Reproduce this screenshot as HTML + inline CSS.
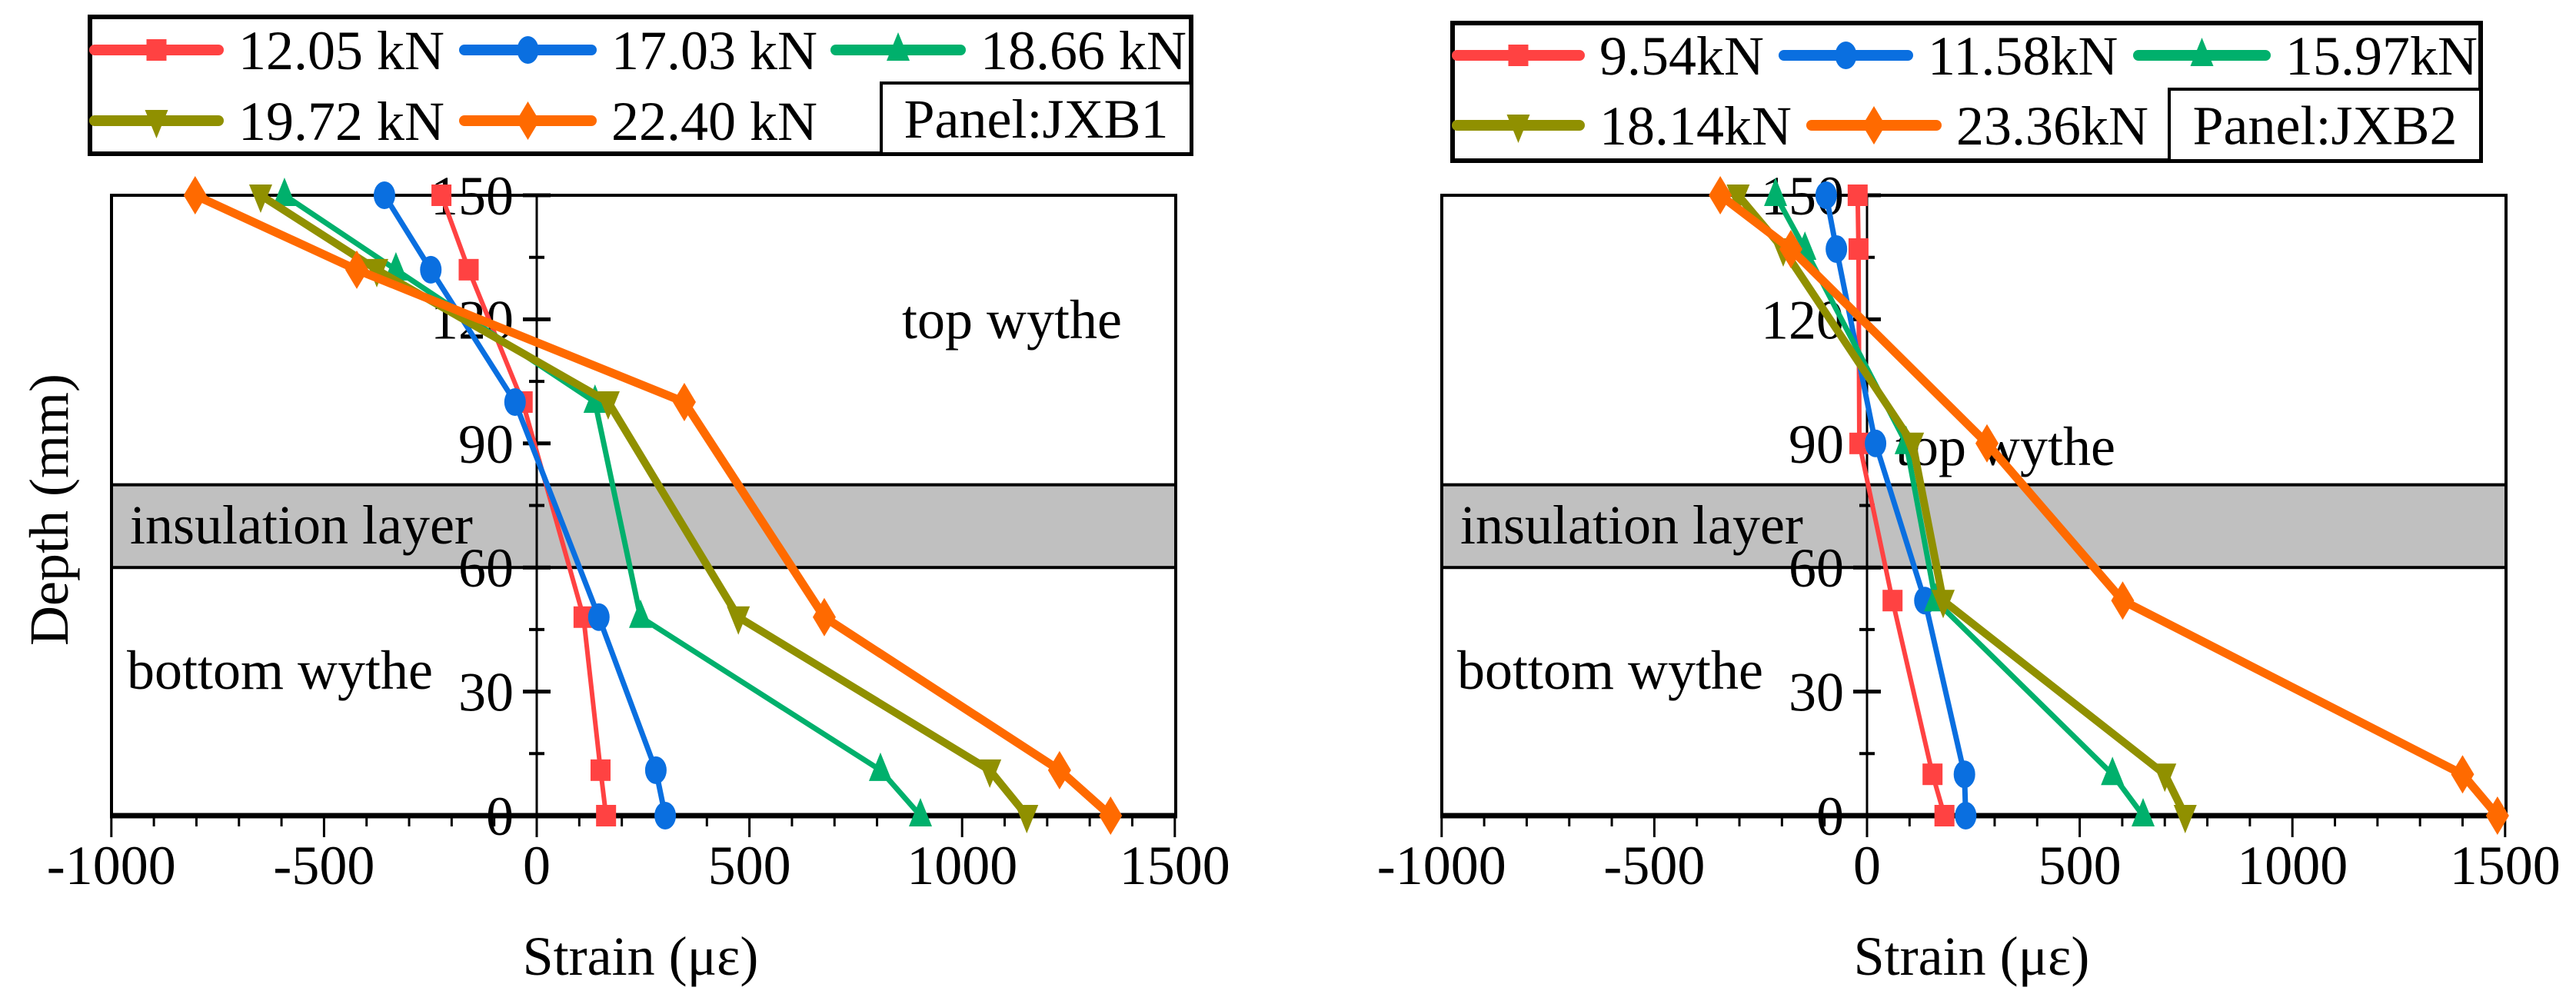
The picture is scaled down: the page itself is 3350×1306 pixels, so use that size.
<!DOCTYPE html>
<html><head><meta charset="utf-8"><style>
html,body{margin:0;padding:0;background:#fff}
svg{display:block}
svg text{font-family:"Liberation Serif","Times New Roman","DejaVu Serif",serif !important}
</style></head><body>
<svg id="chart" xmlns="http://www.w3.org/2000/svg" width="3350" height="1306" viewBox="0 0 3350 1306"></svg>
<script>
// Panel JXB1 data
const depths1 = [150, 132, 100, 48, 11, 0];
const labels1 = ['12.05 kN', '17.03 kN', '18.66 kN', '19.72 kN', '22.40 kN'];
const s1_a = [-224, -160, -33, 110, 150, 163];
const s1_b = [-358, -249, -51, 146, 280, 302];
const s1_c = [-593, -331, 137, 244, 808, 902];
const s1_d = [-649, -376, 168, 474, 1065, 1152];
const s1_e = [-803, -423, 347, 676, 1229, 1349];
// Panel JXB2 data
const depths2 = [150, 137, 90, 52, 10, 0];
const labels2 = ['9.54kN', '11.58kN', '15.97kN', '18.14kN', '23.36kN'];
const s2_a = [-22, -20, -18, 60, 154, 182];
const s2_b = [-96, -72, 20, 136, 229, 232];
const s2_c = [-215, -146, 92, 161, 577, 649];
const s2_d = [-303, -197, 107, 179, 700, 748];
const s2_e = [-345, -179, 282, 601, 1400, 1482];
const xTicks = [-1000, -500, 0, 500, 1000, 1500];
const yTicks = [0, 30, 60, 90, 120, 150];

const NS = 'http://www.w3.org/2000/svg';
const svg = document.getElementById('chart');
function mk(tag, attrs, parent) {
  const e = document.createElementNS(NS, tag);
  for (const k in attrs) e.setAttribute(k, attrs[k]);
  if (tag === 'text') {
    e.setAttribute('style', 'font-family:"Liberation Serif","Times New Roman","DejaVu Serif",serif');
    e.setAttribute('fill', '#000');
  }
  (parent || svg).appendChild(e);
  return e;
}
const colors = ['#ff4242', '#0a6fe0', '#00b06c', '#909000', '#ff6a00'];
const widths = [6, 7, 7, 10, 11];
const shapes = ['square', 'circle', 'up', 'down', 'diamond'];

function marker(g, shape, x, y, c) {
  const s = 15;
  let el;
  if (shape === 'square') el = mk('rect', {x: x - s + 2, y: y - s + 1, width: 2 * s - 4, height: 2 * s - 2, fill: c}, g);
  else if (shape === 'circle') el = mk('ellipse', {cx: x, cy: y, rx: s - 1, ry: s + 3, fill: c}, g);
  else if (shape === 'up') el = mk('polygon', {points: `${x},${y - s - 8} ${x - s},${y + s - 1} ${x + s},${y + s - 1}`, fill: c}, g);
  else if (shape === 'down') el = mk('polygon', {points: `${x},${y + s + 8} ${x - s},${y - s + 1} ${x + s},${y - s + 1}`, fill: c}, g);
  else el = mk('polygon', {points: `${x},${y - s - 10} ${x + s},${y} ${x},${y + s + 10} ${x - s},${y}`, fill: c}, g);
  
  
}

function panel(cfg) {
  const g = mk('g', {});
  
  
  const L = cfg.left, X0 = cfg.x0, R = cfg.right, T = 254, B = 1061;
  const sx = v => X0 + v * 0.5532;
  const sy = d => B - d * 5.38;
  const band = mk('rect', {x: L, y: sy(80), width: R - L, height: sy(60) - sy(80), fill: '#c0c0c0', stroke: '#000', 'stroke-width': 4}, g);
  
  
  const fr = mk('path', {d: `M${L},${B} L${L},${T} L${R},${T} L${R},${B}`, fill: 'none', stroke: '#000', 'stroke-width': 4}, g);
  
  
  const xa = mk('line', {x1: L - 2, y1: B, x2: R + 2, y2: B, stroke: '#000', 'stroke-width': 7}, g);
  
  
  for (let v = -1000; v <= 1500; v += 100) {
    const major = v % 500 === 0;
    mk('line', {x1: sx(v), y1: B, x2: sx(v), y2: B + (major ? 28 : 14), stroke: '#000', 'stroke-width': 3}, g);
  }
  xTicks.forEach(v => {
    const t = mk('text', {x: sx(v), y: 1150, 'font-size': 72, 'text-anchor': 'middle'}, g);
    t.textContent = v;
    
    
  });
  const ya = mk('line', {x1: X0, y1: T, x2: X0, y2: B, stroke: '#000', 'stroke-width': 3}, g);
  
  
  for (let d = 0; d <= 150; d += 15) {
    const major = d % 30 === 0;
    mk('line', {x1: X0 - (major ? 18 : 10), y1: sy(d), x2: X0 + (major ? 18 : 10), y2: sy(d), stroke: '#000', 'stroke-width': major ? 5 : 4}, g);
  }
  yTicks.forEach(d => {
    const t = mk('text', {x: X0 - 30, y: sy(d) + 25, 'font-size': 72, 'text-anchor': 'end'}, g);
    t.textContent = d;
    
    
  });
  const a1 = mk('text', {x: cfg.topX, y: cfg.topY, 'font-size': 72, 'text-anchor': 'middle'}, g);
  a1.textContent = 'top wythe';
  
  
  const a2 = mk('text', {x: L + 24, y: 707, 'font-size': 72}, g);
  a2.textContent = 'insulation layer';
  
  
  const a3 = mk('text', {x: L + 20, y: 896, 'font-size': 72}, g);
  a3.textContent = 'bottom wythe';
  
  
  cfg.series.forEach((vals, i) => {
    const sg = mk('g', {}, g);
    
    
    const pts = vals.map((v, j) => sx(v) + ',' + sy(cfg.depths[j])).join(' ');
    mk('polyline', {points: pts, fill: 'none', stroke: colors[i], 'stroke-width': widths[i], 'stroke-linejoin': 'round'}, sg);
    vals.forEach((v, j) => marker(sg, shapes[i], sx(v), sy(cfg.depths[j]), colors[i]));
  });
  const xt = mk('text', {x: cfg.xtX, y: 1268, 'font-size': 72, 'text-anchor': 'middle'}, g);
  xt.textContent = 'Strain (με)';
  
  
  const lg = mk('g', {}, g);
  
  
  const Lb = cfg.leg;
  mk('rect', {x: Lb.x1, y: Lb.y1, width: Lb.x2 - Lb.x1, height: Lb.y2 - Lb.y1, fill: '#fff', stroke: '#000', 'stroke-width': 6}, lg);
  Lb.entries.forEach((e, i) => {
    const eg = mk('g', {}, lg);
    
    
    mk('line', {x1: e[0] + 6, y1: e[2], x2: e[1] - 6, y2: e[2], stroke: colors[i], 'stroke-width': 14, 'stroke-linecap': 'round'}, eg);
    marker(eg, shapes[i], (e[0] + e[1]) / 2, e[2], colors[i]);
    const t = mk('text', {x: e[1] + 20, y: e[2] + 25, 'font-size': 72}, eg);
    t.textContent = cfg.labels[i];
  });
  const pb = mk('rect', {x: Lb.px1, y: Lb.py1, width: Lb.x2 - Lb.px1, height: Lb.y2 - Lb.py1, fill: '#fff', stroke: '#000', 'stroke-width': 4}, lg);
  
  
  const pt = mk('text', {x: (Lb.px1 + Lb.x2) / 2, y: (Lb.py1 + Lb.y2) / 2 + 25, 'font-size': 72, 'text-anchor': 'middle'}, lg);
  pt.textContent = cfg.panel;
  
  
}

panel({name: 'panel-jxb1-chart', left: 145, x0: 698, right: 1529, depths: depths1, labels: labels1,
  series: [s1_a, s1_b, s1_c, s1_d, s1_e], topX: 1316, topY: 440, xtX: 833, panel: 'Panel:JXB1',
  leg: {x1: 117, y1: 22, x2: 1549, y2: 200, px1: 1146, py1: 108,
    entries: [[117, 290, 65], [598, 775, 65], [1081, 1255, 65], [117, 290, 157], [598, 775, 157]]}});
panel({name: 'panel-jxb2-chart', left: 1875, x0: 2428, right: 3259, depths: depths2, labels: labels2,
  series: [s2_a, s2_b, s2_c, s2_d, s2_e], topX: 2608, topY: 605, xtX: 2564, panel: 'Panel:JXB2',
  leg: {x1: 1889, y1: 30, x2: 3226, y2: 209, px1: 2821, py1: 116,
    entries: [[1889, 2060, 72], [2314, 2487, 72], [2775, 2952, 72], [1889, 2060, 163], [2350, 2524, 163]]}});

const yt = mk('text', {x: 0, y: 0, 'font-size': 72, 'text-anchor': 'middle', transform: 'translate(88,663) rotate(-90)'});
yt.textContent = 'Depth (mm)';


</script>
</body></html>
